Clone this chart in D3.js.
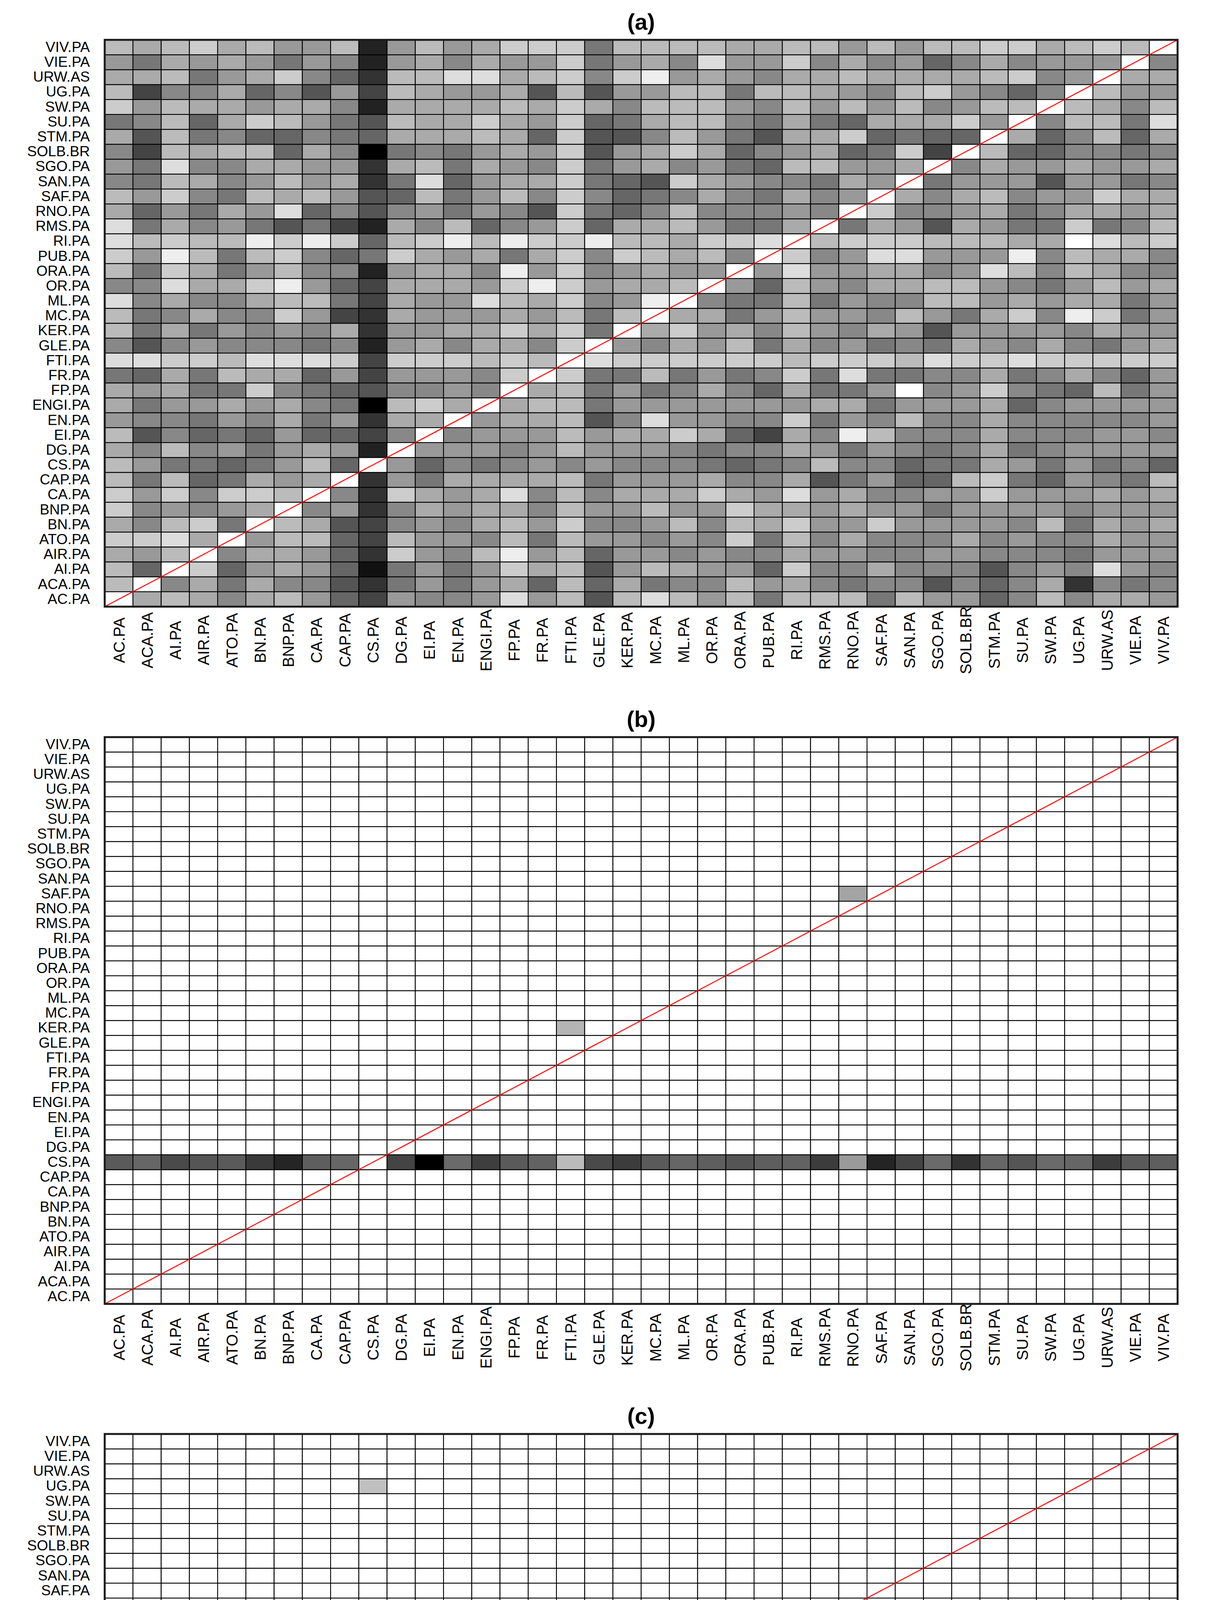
<!DOCTYPE html>
<html><head><meta charset="utf-8">
<script src="https://cdn.jsdelivr.net/npm/d3@7"></script>
<style>html,body{margin:0;padding:0;background:#fff;overflow:hidden}svg{display:block}</style>
</head><body>
<script>
const categories = ["AC.PA","ACA.PA","AI.PA","AIR.PA","ATO.PA","BN.PA","BNP.PA","CA.PA","CAP.PA","CS.PA","DG.PA","EI.PA","EN.PA","ENGI.PA","FP.PA","FR.PA","FTI.PA","GLE.PA","KER.PA","MC.PA","ML.PA","OR.PA","ORA.PA","PUB.PA","RI.PA","RMS.PA","RNO.PA","SAF.PA","SAN.PA","SGO.PA","SOLB.BR","STM.PA","SU.PA","SW.PA","UG.PA","URW.AS","VIE.PA","VIV.PA"];

// Panel (a): grey level (hex digit 0-f, f = white) per cell, rows listed top (VIV.PA) to bottom (AC.PA), columns AC.PA..VIV.PA
const rowsA_top = [
"babcab99b29b9accc7"+"bbbbaabb9b9bbccabcbf",
"97a9a979829a8a99c7"+"9a8d99c8a8968a8999f8",
"aab79ac863bbddabc8"+"ce9a98aabaaaabc89faa",
"b488a68594ba99a5b5"+"99bb7bba98bc9868fb99",
"c9baa9aa82aaaabaca"+"8bbb98b9b9b89bbfba8b",
"78b6acb975baaca9c6"+"7abb87a76aaac9f8bb7d",
"a5b7866876aaaba6c5"+"58b975aac6766fa68b6a",
"84babb6a807879a9c5"+"9aca689a67c4fb668878",
"97d88aa993ab7a98c7"+"9a8976bb99af8a99a99a",
"87ba89b9a37d69aac7"+"65ca9887a9f799959978",
"b9c87bab956b79b8c8"+"678a87a89fa8ab899caa",
"a697a9d685897985c7"+"68b88898fc889a78aa9a",
"d7a8975742a8b689c6"+"aab977af7a95a977c78b",
"dbcbbecec6bcebecce"+"bbaccdfbcccbbbaafdbc",
"c9eb7bc867ca9a7ac8"+"cbab8fc89dd999e8baa8",
"b7ca79b8829aa8e9c8"+"9a99f9d99aa89db8ba88",
"88daace964aaa9cec9"+"aabf96b98aabb9879b9a",
"d8a88abb74a99dbac8"+"9ef877b7988bb9a9aa79",
"b78a88c943a999a9b7"+"bfaa79b998b97ac8ec79",
"b7a79898a399aacac7"+"fac9a8b98a9599998a99",
"85898887829a8aa8cf"+"98a9b7a89787a98a879a",
"ddccbdddc4cccbcbfd"+"ccccccbcccbdccdccccc",
"76a7baa6949998cfc7"+"7b7978c7d7788a78a869",
"a9a77c87658898fab7"+"978a86a779f89c876b79",
"a799a9a870bcafabb7"+"9999999aa7999a689999",
"988798a793aaf9aab5"+"8d9988c798b88a888889",
"b5867696648f8999b9"+"aaca64a8eb888a888998",
"a8b8979a92f99989b9"+"998788a979878a789999",
"b977679b6f96878989"+"8887678b88677a979786",
"b7b67a9af397aaaab7"+"999a88a57966bc76987b",
"c9c8ccbf83ca9ad8b8"+"aaaca9d9a8899c999a9a",
"c8989af8938a9aa8b9"+"9b99caa9a99799998999",
"a8bc7fba54898ab9c8"+"89b8bac99c99998b7a9a",
"ccdaf9bb64b998b7b9"+"9898c7b8a888a8988a99",
"a9bf8aa963c98be9b6"+"998988a9988998887999",
"b6fc69a9617979cab5"+"9ba996c88a8885898d98",
"bf8a7a88537979a6b6"+"a788b9a87885868a3878",
"faba8ab9649889d9b5"+"bdb9b7bbb7b9968b8aa9"
];

// Panels (b),(c): CS.PA row grey levels (0-255), columns AC.PA..VIV.PA
const csRowB = [0x5a,0x66,0x4a,0x55,0x5a,0x3a,0x25,0x5e,0x66,0xff,0x44,0x00,0x6a,0x3e,0x5a,0x62,0xbb,0x4a,0x3c,0x5a,0x66,0x5e,0x55,0x5e,0x62,0x3c,0x9a,0x24,0x44,0x6a,0x33,0x66,0x55,0x6a,0x66,0x3c,0x5a,0x5e];
const csRowC = [0x7a,0x86,0x62,0x6e,0x7a,0x3e,0x34,0x76,0x80,0xff,0x48,0x00,0x80,0x5a,0x6c,0x7a,0x96,0x5e,0x46,0x6e,0x7a,0x6c,0x6c,0x78,0x78,0x4a,0x70,0x2e,0x50,0x88,0x40,0x76,0x6e,0x7a,0x88,0x4c,0x6e,0x7a];
// other shaded cells: [row, column, grey]
const extraB = [["SAF.PA","RNO.PA",0xa4],["KER.PA","FTI.PA",0xb4]];
const extraC = [["UG.PA","CS.PA",0xc0]];
const titles = ["(a)","(b)","(c)"];

const W=3120,H=5309;
const svg=d3.select("body").append("svg").attr("width",W).attr("height",H).style("font-family","'Liberation Sans',Arial,sans-serif");
const left=268,right=3014,plotH=1451,tops=[102,1887,3671];
const x=d3.scaleBand().domain(categories).range([left,right]);
const grey=d3.scaleLinear().domain([0,255]).range(["#000","#fff"]);

function buildCells(k){
  const cells=[];
  if(k===0){
    const rows=rowsA_top.slice().reverse();
    rows.forEach((s,i)=>{for(let j=0;j<categories.length;j++){const ch=s[j]||"f";cells.push({r:categories[i],c:categories[j],g:parseInt(ch,16)*17});}});
  } else {
    const cs=k===1?csRowB:csRowC, ex=k===1?extraB:extraC;
    categories.forEach(r=>categories.forEach((c,j)=>{
      let g=255;
      if(r==="CS.PA") g=cs[j];
      ex.forEach(e=>{if(e[0]===r&&e[1]===c) g=e[2];});
      cells.push({r,c,g});
    }));
  }
  return cells;
}

tops.forEach((top,k)=>{
  const y=d3.scaleBand().domain(categories.slice().reverse()).range([top,top+plotH]);
  const g=svg.append("g");
  g.selectAll("rect.cell").data(buildCells(k)).join("rect").attr("class","cell")
    .attr("x",d=>x(d.c)).attr("y",d=>y(d.r)).attr("width",x.bandwidth()).attr("height",y.bandwidth())
    .attr("fill",d=>grey(d.g)).attr("stroke","#000").attr("stroke-width",2.2);
  g.append("line").attr("x1",left).attr("y1",top+plotH).attr("x2",right).attr("y2",top)
    .attr("stroke","#f00").attr("stroke-width",2.5);
  g.append("rect").attr("x",left).attr("y",top).attr("width",right-left).attr("height",plotH)
    .attr("fill","none").attr("stroke","#1a1a1a").attr("stroke-width",5);
  const ya=d3.axisLeft(y).tickSize(0).tickPadding(38);
  const yg=g.append("g").attr("transform",`translate(${left},0)`).call(ya);
  yg.select(".domain").remove();
  yg.selectAll("text").attr("font-size",37).attr("fill","#000").attr("font-family","'Liberation Sans',Arial,sans-serif");
  g.selectAll("text.xl").data(categories).join("text").attr("class","xl")
    .attr("transform",d=>`translate(${x(d)+x.bandwidth()/2},${top+plotH+86}) rotate(-90)`)
    .attr("text-anchor","middle").attr("dy","0.36em").attr("font-size",40).text(d=>d);
  g.append("text").attr("x",(left+right)/2).attr("y",top-26).attr("text-anchor","middle")
    .attr("font-size",58).attr("font-weight","bold").text(titles[k]);
});
</script>
</body></html>
